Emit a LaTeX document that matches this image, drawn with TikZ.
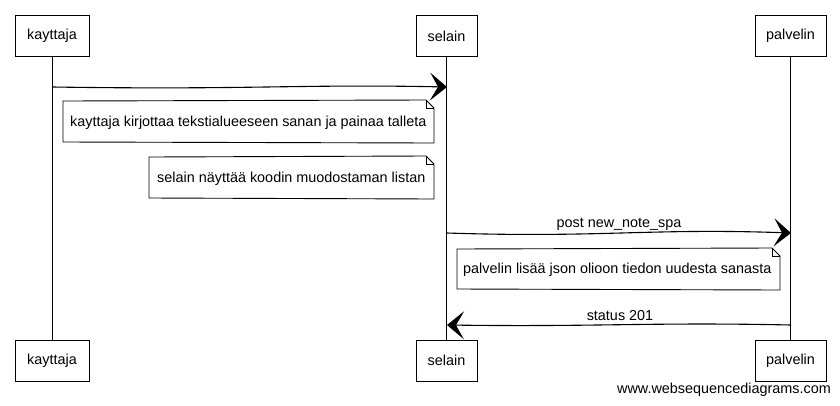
\documentclass[tikz,border=0pt]{standalone}
\usepackage{fontspec}
\setmainfont{Liberation Sans}
\usetikzlibrary{arrows.meta}
\begin{document}
\begin{tikzpicture}[x=1pt,y=-1pt,
  actor/.style={draw, line width=0.9pt, fill=white, inner sep=0pt, font=\fontsize{14.4}{16}\selectfont},
  life/.style={line width=0.8pt},
  msg/.style={line width=1.1pt, -{Stealth[length=17pt,width=28pt,inset=8pt]}},
  notebox/.style={line width=0.9pt, fill=white},
  txt/.style={font=\fontsize{14.4}{16}\selectfont, inner sep=0pt},
]
\useasboundingbox (0,0) rectangle (840,405);
% actors top
\node[actor, minimum width=74pt, minimum height=41pt] (k1) at (52,36) {kayttaja};
\node[actor, minimum width=61pt, minimum height=41pt] (s1) at (446.5,36) {selain};
\node[actor, minimum width=71pt, minimum height=41pt] (p1) at (790.5,36) {palvelin};
% actors bottom
\node[actor, minimum width=74pt, minimum height=41pt] (k2) at (52,360.5) {kayttaja};
\node[actor, minimum width=61pt, minimum height=41pt] (s2) at (446.5,360.5) {selain};
\node[actor, minimum width=71pt, minimum height=41pt] (p2) at (790.5,360.5) {palvelin};
% lifelines
\draw[life] (k1.south) -- (k2.north);
\draw[life] (s1.south) -- (s2.north);
\draw[life] (p1.south) -- (p2.north);
% message coordinates
\coordinate (m1a) at (53,87);
\coordinate (m1b) at (447,87);
\coordinate (m2a) at (447,233);
\coordinate (m2b) at (791,233);
\coordinate (m3a) at (791,325);
\coordinate (m3b) at (447,325);
% message 1
\draw[msg] (m1a) .. controls (250,90) and (300,84) .. (m1b);
% note 1
\draw[notebox] (63,101) -- (426,100) -- (434,108) -- (434,143) -- (63,142) -- cycle;
\draw[line width=0.6pt] (426,100) -- (426,108) -- (434,108);
\node[txt, anchor=west] (n1) at (70,123) {kayttaja kirjottaa tekstialueeseen sanan ja painaa talleta};
% note 2
\draw[notebox] (149,157) -- (426,156) -- (434,164) -- (434,199) -- (149,198) -- cycle;
\draw[line width=0.6pt] (426,156) -- (426,164) -- (434,164);
\node[txt, anchor=west] (n2) at (157,179) {selain näyttää koodin muodostaman listan};
% message 2
\draw[msg] (m2a) .. controls (600,238) and (650,228) .. (m2b);
\node[txt] (l2) at (619,224) {post new\_note\_spa};
% note 3
\draw[notebox] (457,249) -- (772,248) -- (780,256) -- (780,290) -- (457,289) -- cycle;
\draw[line width=0.6pt] (772,248) -- (772,256) -- (780,256);
\node[txt, anchor=west] (n3) at (463,270) {palvelin lisää json olioon tiedon uudesta sanasta};
% message 3
\draw[msg] (m3a) .. controls (650,322) and (600,327) .. (m3b);
\node[txt] (l3) at (620,316) {status 201};
% watermark
\node[txt, anchor=east] (wm) at (831,390) {www.websequencediagrams.com};
\end{tikzpicture}
\end{document}
